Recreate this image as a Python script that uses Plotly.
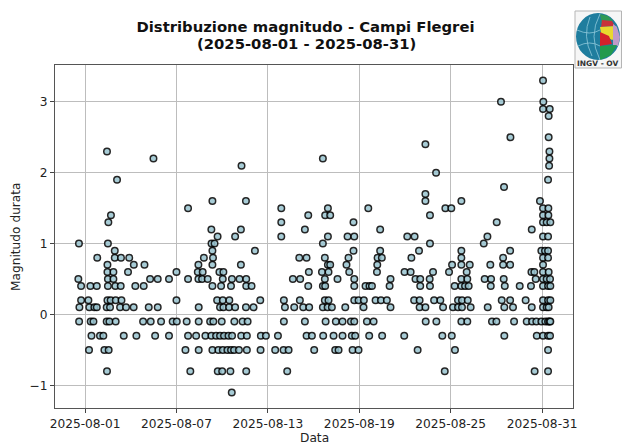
import pandas as pd
import plotly.graph_objects as go

# Day of August (fractional) for each event, grouped by duration magnitude
m_3_3 = [31.06]
m_3_0 = [28.3, 31.08]
m_2_9 = [31.06, 31.5]
m_2_8 = [31.43]
m_2_5 = [28.92, 31.43]
m_2_4 = [23.34]
m_2_3 = [2.44, 31.48]
m_2_2 = [5.49, 16.61, 31.48]
m_2_1 = [11.27, 31.46]
m_2_0 = [24.04]
m_1_9 = [3.1, 31.39]
m_1_8 = [28.5]
m_1_7 = [23.34]
m_1_6 = [9.36, 11.56, 23.34, 25.7, 30.86]
m_1_5 = [7.76, 13.88, 16.94, 19.59, 24.65, 25.04, 31.06, 31.41]
m_1_4 = [2.7, 15.65, 16.76, 17.09, 23.64, 31.06, 31.41]
m_1_3 = [2.53, 13.88, 18.62, 28.02, 31.06, 31.3, 31.54]
m_1_2 = [9.29, 11.23, 15.43, 20.37, 30.32]
m_1_1 = [9.7, 10.85, 13.88, 16.94, 18.23, 18.67, 22.15, 22.63, 27.41, 31.06, 31.39]
m_1_0 = [0.6, 2.5, 9.3, 9.5, 16.61, 23.64, 27.17]
m_0_9 = [2.95, 9.36, 12.15, 18.62, 20.37, 22.92, 25.7, 28.9, 30.95, 31.19, 31.39]
m_0_8 = [1.8, 2.95, 3.36, 3.9, 8.8, 9.4, 15.06, 15.54, 16.74, 18.29, 20.2, 20.48, 22.42,
         25.7, 28.44, 31.06, 31.39]
m_0_7 = [2.47, 4.2, 4.9, 8.44, 9.36, 11.23, 16.94, 17.09, 18.16, 20.18, 25.09, 25.7, 26.25,
         27.6, 28.44, 28.9, 31.06]
m_0_6 = [2.47, 2.86, 3.82, 7.0, 8.4, 8.72, 9.82, 10.08, 15.69, 16.55, 16.98, 18.34, 20.16,
         21.97, 22.37, 23.84, 24.89, 26.05, 30.3, 30.49, 31.06, 31.43]
m_0_5 = [0.56, 2.5, 2.86, 5.27, 5.77, 6.51, 7.76, 8.44, 8.68, 9.05, 10.04, 10.64, 11.14, 11.58,
         14.64, 15.12, 16.74, 17.57, 18.67, 21.05, 22.69, 23.0, 23.62, 25.7, 26.09, 27.23,
         27.65, 28.48, 30.58, 31.06, 31.3, 31.52]
m_0_4 = [0.74, 1.35, 1.77, 2.5, 2.99, 3.34, 4.3, 4.85, 9.36, 9.93, 10.58, 11.58, 11.93, 15.65,
         16.61, 16.76, 18.67, 19.41, 19.67, 19.83, 20.99, 23.0, 23.64, 25.26, 25.7, 25.94,
         26.18, 27.63, 28.55, 29.53, 30.27, 31.06, 31.39, 31.54]
m_0_2 = [0.74, 1.22, 2.47, 2.68, 3.01, 3.39, 7.0, 9.67, 10.04, 10.47, 12.5, 14.05, 15.1, 16.74,
         16.98, 18.67, 18.95, 19.3, 20.07, 20.42, 20.81, 22.6, 22.96, 23.91, 24.32, 25.48,
         25.74, 26.12, 28.35, 28.9, 29.92, 31.06, 31.39, 31.54]
m_0_1 = [0.63, 1.28, 1.61, 1.77, 2.42, 2.64, 3.3, 3.69, 4.19, 5.18, 5.77, 8.46, 9.86, 10.08,
         10.45, 10.85, 11.56, 12.06, 14.12, 14.73, 15.32, 15.71, 16.61, 16.92, 17.2, 18.08,
         19.28, 21.05, 22.96, 23.34, 24.5, 25.15, 25.48, 25.74, 26.31, 27.43, 28.52, 29.09,
         30.32, 31.06, 31.3, 31.43]
m_neg_0_1 = [0.61, 1.37, 1.55, 2.42, 2.6, 3.01, 4.81, 5.31, 5.99, 6.75, 7.02, 7.67, 8.46, 9.21,
             9.42, 9.97, 10.8, 11.34, 11.67, 14.05, 15.43, 16.79, 17.46, 17.9, 18.45, 18.67,
             19.5, 19.94, 23.36, 24.06, 25.7, 26.09, 27.71, 28.0, 29.16, 29.99, 30.34, 30.62,
             30.95, 31.21, 31.39, 31.48, 31.54]
m_neg_0_3 = [1.42, 1.98, 2.2, 3.54, 4.37, 5.6, 6.51, 7.76, 8.29, 8.9, 9.29, 9.6, 9.86, 10.12,
             10.41, 10.65, 11.25, 11.62, 12.54, 12.87, 13.66, 15.54, 15.89, 16.63, 17.31, 17.9,
             18.51, 18.73, 19.65, 20.5, 21.95, 24.45, 25.07, 28.52, 30.65, 31.06, 31.39, 31.52]
m_neg_0_5 = [1.26, 2.27, 2.55, 7.59, 8.46, 9.36, 9.75, 10.04, 10.34, 10.58, 10.78, 11.1, 11.62,
             12.52, 13.48, 14.03, 14.36, 16.04, 17.42, 17.64, 18.56, 18.95, 22.83, 25.28, 31.39]
m_neg_0_8 = [2.44, 7.91, 9.71, 10.0, 10.54, 11.58, 14.27, 24.61, 30.51, 31.39]
m_neg_1_1 = [10.63]

magnitude_levels = [3.3, 3.0, 2.9, 2.8, 2.5, 2.4, 2.3, 2.2, 2.1, 2.0, 1.9, 1.8, 1.7, 1.6, 1.5,
                    1.4, 1.3, 1.2, 1.1, 1.0, 0.9, 0.8, 0.7, 0.6, 0.5, 0.4, 0.2, 0.1,
                    -0.1, -0.3, -0.5, -0.8, -1.1]
days_by_level = [m_3_3, m_3_0, m_2_9, m_2_8, m_2_5, m_2_4, m_2_3, m_2_2, m_2_1, m_2_0, m_1_9,
                 m_1_8, m_1_7, m_1_6, m_1_5, m_1_4, m_1_3, m_1_2, m_1_1, m_1_0, m_0_9, m_0_8,
                 m_0_7, m_0_6, m_0_5, m_0_4, m_0_2, m_0_1, m_neg_0_1, m_neg_0_3, m_neg_0_5,
                 m_neg_0_8, m_neg_1_1]

tick_dates = ["2025-08-01", "2025-08-07", "2025-08-13", "2025-08-19", "2025-08-25", "2025-08-31"]
y_ticks = [-1, 0, 1, 2, 3]
x_limits = ["2025-07-30 00:40", "2025-09-02 00:40"]
y_limits = [-1.32, 3.52]

base = pd.Timestamp("2025-08-01")
xs, ys = [], []
for level, days in zip(magnitude_levels, days_by_level):
    for d in days:
        xs.append(base + pd.Timedelta(days=d - 1))
        ys.append(level)

W, H = 628, 445
L, R, T, B = 55, 573, 65, 408


def px(x):
    return (x - L) / (R - L)


def py(y):
    return (B - y) / (B - T)


def poly(points, fill):
    path = "M " + " L ".join(f"{px(a):.4f},{py(b):.4f}" for a, b in points) + " Z"
    return dict(type="path", xref="paper", yref="paper", path=path, fillcolor=fill,
                line=dict(width=0), layer="above")


def curve(a, c, b):
    path = (f"M {px(a[0]):.4f},{py(a[1]):.4f} Q {px(c[0]):.4f},{py(c[1]):.4f} "
            f"{px(b[0]):.4f},{py(b[1]):.4f}")
    return dict(type="path", xref="paper", yref="paper", path=path,
                line=dict(color="#8fc9da", width=0.8), layer="above")


logo_shapes = [
    dict(type="rect", xref="paper", yref="paper", x0=px(575), x1=px(621.5), y0=py(68), y1=py(11),
         fillcolor="#f6f6f6", line=dict(color="#b5b5b5", width=1), layer="above"),
    dict(type="circle", xref="paper", yref="paper", x0=px(576), x1=px(620), y0=py(60), y1=py(13),
         fillcolor="#1f7d9e", line=dict(width=0), layer="above"),
    poly([(600, 14), (608, 16), (613, 21), (602, 24)], "#2f9a55"),
    poly([(602, 20), (612, 21), (615, 26), (601, 27)], "#c8323a"),
    poly([(600, 27), (616, 26), (619, 36), (612, 40), (601, 33)], "#e9d82e"),
    poly([(600, 32), (609, 36), (612, 44), (600, 46)], "#d5202b"),
    poly([(613, 24), (617, 27), (620, 37), (618, 46), (613, 45)], "#c09ac8"),
    poly([(600, 46), (617, 45), (611, 55), (600, 60)], "#239a4d"),
    curve((590, 17), (582, 36), (592, 56)),
    curve((600, 14), (588, 36), (600, 60)),
    curve((577, 30), (590, 36), (600, 30)),
    curve((578, 46), (590, 40), (600, 46)),
]

fig = go.Figure(
    go.Scatter(
        x=xs, y=ys, mode="markers", cliponaxis=False,
        marker=dict(size=6.5, color="#98c4d0", opacity=0.85,
                    line=dict(color="#000000", width=1.5)),
    )
)
fig.update_layout(
    width=W, height=H, margin=dict(l=L, r=W - R, t=T, b=H - B),
    paper_bgcolor="white", plot_bgcolor="white", showlegend=False,
    font=dict(family="DejaVu Sans", color="#222222"),
    title=dict(
        text="<b>Distribuzione magnitudo - Campi Flegrei</b>",
        x=305.5 / W, xanchor="center", y=1 - 27 / H, yanchor="middle", automargin=False,
        font=dict(size=14.8, family="DejaVu Sans", color="#111111"),
    ),
    shapes=logo_shapes,
    annotations=[
        dict(text="<b>(2025-08-01 - 2025-08-31)</b>", xref="paper", yref="paper", x=px(306),
             y=py(44), xanchor="center", yanchor="middle", showarrow=False,
             font=dict(size=14.8, color="#111111")),
        dict(text="<b>INGV - OV</b>", xref="paper", yref="paper", x=px(598), y=py(63.5),
             xanchor="center", yanchor="middle",
             showarrow=False, font=dict(size=7.5, color="#333333", family="DejaVu Sans")),
        dict(text="Data", xref="paper", yref="paper", x=px(314), y=py(438),
             xanchor="center", yanchor="middle", showarrow=False, font=dict(size=12.2)),
        dict(text="Magnitudo durata", xref="paper", yref="paper", x=px(16), y=py(237),
             xanchor="center", yanchor="middle", textangle=-90, showarrow=False,
             font=dict(size=12.2)),
    ],
)
fig.update_xaxes(
    type="date", range=x_limits, tickmode="array", tickvals=tick_dates, ticktext=tick_dates,
    showgrid=True, gridcolor="#bdbdbd", gridwidth=1, zeroline=False, automargin=False,
    showline=True, mirror=True, linecolor="#555555", linewidth=1.3,
    ticks="outside", ticklen=4, tickcolor="#444444", tickfont=dict(size=12.2),
)
fig.update_yaxes(
    range=y_limits, tickmode="array", tickvals=y_ticks, automargin=False,
    showgrid=True, gridcolor="#bdbdbd", gridwidth=1, zeroline=False,
    showline=True, mirror=True, linecolor="#555555", linewidth=1.3,
    ticks="outside", ticklen=4, tickcolor="#444444", tickfont=dict(size=12.2),
)
fig.write_html("out.html", config={"displayModeBar": False},
               post_script="document.body.style.margin='0';document.body.style.overflow='hidden';")
